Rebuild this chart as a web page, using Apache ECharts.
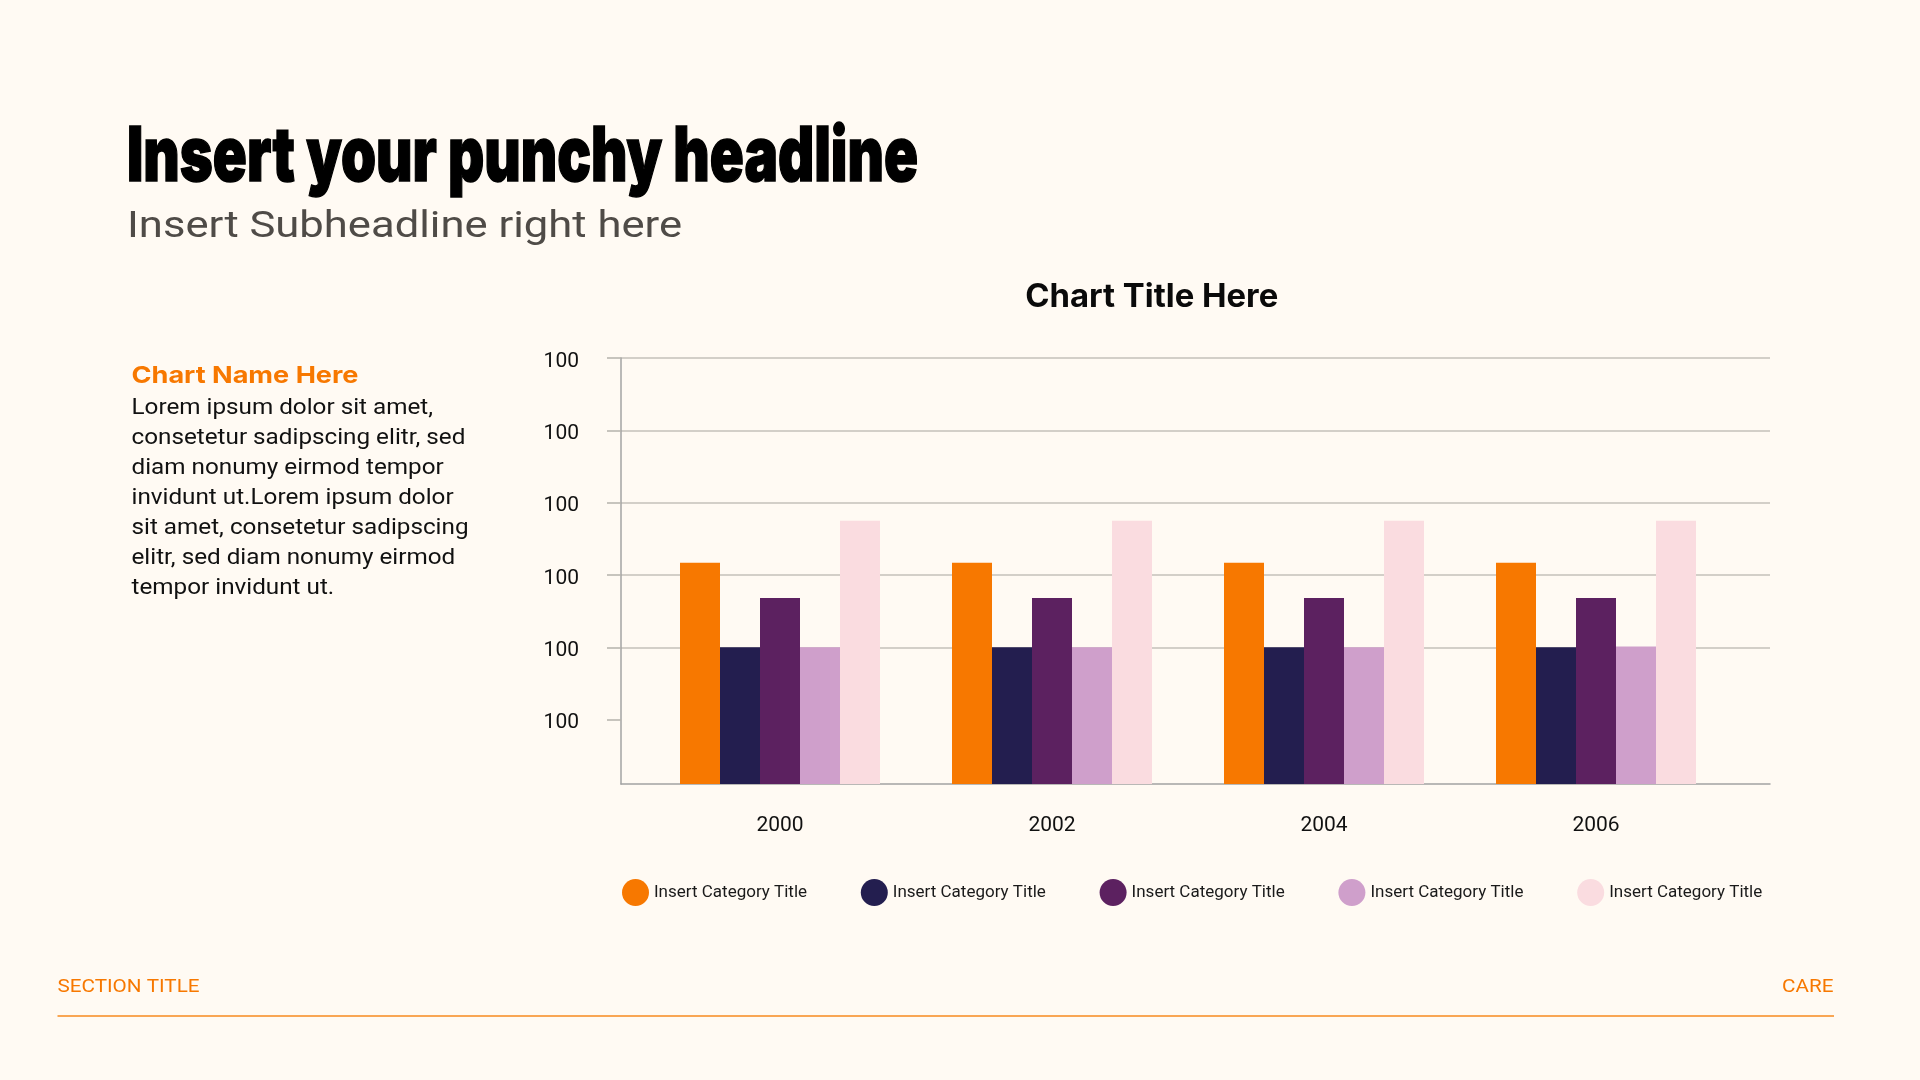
<!DOCTYPE html>
<html><head><meta charset="utf-8">
<script src="https://cdn.jsdelivr.net/npm/echarts@6/dist/echarts.min.js"></script>
<style>html,body{margin:0;padding:0;background:#FFFAF3;}#c{width:1920px;height:1080px;}</style>
</head><body><div id="c"></div>
<script>
// ---- data ----
const categories = ['2000', '2002', '2004', '2006'];
const seriesKeys = ['s1', 's2', 's3', 's4', 's5'];
const seriesLabels = ['Insert Category Title', 'Insert Category Title', 'Insert Category Title', 'Insert Category Title', 'Insert Category Title'];
const valuesOrange = [3.06, 3.06, 3.06, 3.06];
const valuesNavy = [1.89, 1.89, 1.89, 1.89];
const valuesPurple = [2.57, 2.57, 2.57, 2.57];
const valuesLilac = [1.89, 1.89, 1.89, 1.90];
const valuesPink = [3.64, 3.64, 3.64, 3.64];
const yTickLabels = ['100', '100', '100', '100', '100', '100'];
const axisTop = 5.89;
const seriesColors = ['#F77800', '#231E4F', '#5C2160', '#CF9FCB', '#FADCE0'];
const seriesValues = [valuesOrange, valuesNavy, valuesPurple, valuesLilac, valuesPink];

const headline = 'Insert your punchy headline';
const subheadline = 'Insert Subheadline right here';
const chartName = 'Chart Name Here';
const bodyLines = ['Lorem ipsum dolor sit amet,', 'consetetur sadipscing elitr, sed', 'diam nonumy eirmod tempor', 'invidunt ut.Lorem ipsum dolor', 'sit amet, consetetur sadipscing', 'elitr, sed diam nonumy eirmod', 'tempor invidunt ut.'];
const chartTitle = 'Chart Title Here';
const footerLeft = 'SECTION TITLE';
const footerRight = 'CARE';

// ---- text fitting helper ----
const mctx = document.createElement('canvas').getContext('2d');
function textW(text, weight, size, family) {
  mctx.font = weight + ' ' + size + 'px ' + family;
  return mctx.measureText(text).width;
}
function fit(text, weight, size, family, target) {
  return target / textW(text, weight, size, family);
}
const HF = "Inter, 'DejaVu Sans'";
const RF = "Roboto, 'Noto Sans', sans-serif";
const hScale = fit(headline, 900, 76, HF, 791);
const sScale = fit(subheadline, 400, 37, RF, 555);
const nScale = fit(chartName, 700, 23.5, HF, 227);
let widest = bodyLines.reduce((a, b) => textW(b, 400, 22, RF) > textW(a, 400, 22, RF) ? b : a);
const bScale = fit(widest, 400, 22, RF, 337);
const tScale = fit(chartTitle, 700, 32, HF, 253);
const fScale = fit(footerLeft, 400, 18.5, RF, 142);
const legendFont = 17;
const legendGap = 238.8 - 27 - 5 - textW(seriesLabels[0], 400, legendFont, RF);

const chart = echarts.init(document.getElementById('c'));
const option = {
  backgroundColor: '#FFFAF3',
  animation: false,
  grid: [
    { left: 621, right: 150, top: 358, bottom: 296, containLabel: false },
    { left: 644, right: 188, top: 358, bottom: 296, containLabel: false }
  ],
  xAxis: [
    { gridIndex: 0, type: 'value', min: 0, max: 1,
      axisLine: { show: true, onZero: false, lineStyle: { color: '#A3A3A3', width: 1.5 } },
      axisTick: { show: false }, axisLabel: { show: false }, splitLine: { show: false } },
    { gridIndex: 1, type: 'category', data: categories,
      axisLine: { show: false }, axisTick: { show: false }, splitLine: { show: false },
      axisLabel: { margin: 31, color: '#111111', fontSize: 21, fontFamily: RF } }
  ],
  yAxis: [
    { gridIndex: 0, type: 'value', inverse: true, min: 0, max: axisTop, interval: 1,
      axisLine: { show: true, onZero: false, lineStyle: { color: '#A3A3A3', width: 1.5 } },
      axisTick: { show: true, inside: false, length: 14, customValues: [0, 1, 2, 3, 4, 5], lineStyle: { color: '#B5B2AC', width: 1.5 } },
      axisLabel: { margin: 42, color: '#111111', fontSize: 21, fontFamily: RF, showMaxLabel: false,
        rich: { a: { fontSize: 21, fontFamily: RF, color: '#111111', padding: [7, 0, 0, 0] } },
        formatter: (v) => { const i = Math.round(v); return (Math.abs(v - i) < 1e-6 && yTickLabels[i] !== undefined) ? '{a|' + yTickLabels[i] + '}' : ''; } },
      splitLine: { show: true, showMaxLine: false, lineStyle: { color: '#C5C1BA', width: 1.5 } } },
    { gridIndex: 1, type: 'value', min: 0, max: axisTop, show: false, splitLine: { show: false } }
  ],
  legend: {
    data: seriesKeys, icon: 'circle', itemWidth: 27, itemHeight: 27, itemGap: legendGap,
    left: 622, top: 879, padding: 0,
    formatter: (name) => seriesLabels[seriesKeys.indexOf(name)],
    textStyle: { fontSize: legendFont, color: '#1a1a1a', fontFamily: RF }
  },
  series: seriesKeys.map((k, i) => ({
    name: k, type: 'bar', xAxisIndex: 1, yAxisIndex: 1,
    barWidth: 40, barGap: '0%', data: seriesValues[i],
    itemStyle: { color: seriesColors[i] }
  })),
  graphic: [
    { type: 'text', x: 127, y: 158, scaleX: hScale, style: { x: 0, y: 0, text: headline, fontFamily: HF, fontWeight: 900, fontSize: 76, fill: '#000', stroke: '#000', lineWidth: 1.5, verticalAlign: 'middle' } },
    { type: 'text', x: 127, y: 228, scaleX: sScale, style: { x: 0, y: 0, text: subheadline, fontFamily: RF, fontWeight: 400, fontSize: 37, fill: '#4F4B47', verticalAlign: 'middle' } },
    { type: 'text', x: 131.5, y: 376, scaleX: nScale, style: { x: 0, y: 0, text: chartName, fontFamily: HF, fontWeight: 700, fontSize: 23.5, fill: '#F77800', verticalAlign: 'middle' } },
    { type: 'text', x: 131.5, y: 393.5, scaleX: bScale, style: { x: 0, y: 0, text: bodyLines.join('\n'), fontFamily: RF, fontWeight: 400, fontSize: 22, lineHeight: 30, fill: '#111111', verticalAlign: 'top' } },
    { type: 'text', x: 1151.7, y: 297, scaleX: tScale, style: { x: 0, y: 0, text: chartTitle, fontFamily: HF, fontWeight: 700, fontSize: 32, fill: '#0a0a0a', align: 'center', verticalAlign: 'middle' } },
    { type: 'text', x: 57.5, y: 987, scaleX: fScale, style: { x: 0, y: 0, text: footerLeft, fontFamily: RF, fontWeight: 400, fontSize: 18.5, fill: '#F77800', verticalAlign: 'middle' } },
    { type: 'text', x: 1833.5, y: 987, scaleX: fScale, style: { x: 0, y: 0, text: footerRight, fontFamily: RF, fontWeight: 400, fontSize: 18.5, fill: '#F77800', align: 'right', verticalAlign: 'middle' } },
    { type: 'line', shape: { x1: 57.5, y1: 1016, x2: 1834, y2: 1016 }, style: { stroke: '#F78A1E', lineWidth: 1.5 } }
  ]
};
chart.setOption(option);
</script>
</body></html>
